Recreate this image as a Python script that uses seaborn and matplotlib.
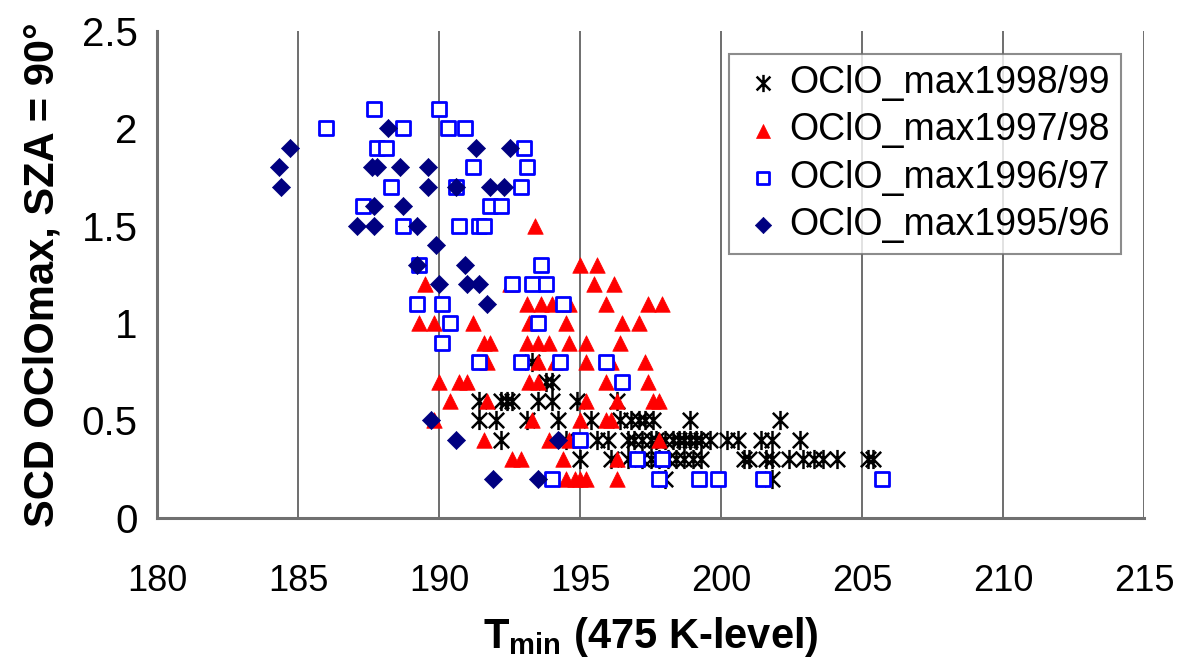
import numpy as np
import pandas as pd
import matplotlib
matplotlib.use("Agg")
import matplotlib.pyplot as plt
from matplotlib.path import Path
import seaborn as sns

# ---------------- data ----------------
# OClO_max1998/99 (asterisks)
t9899 = [193.3,
         193.8, 194.0,
         191.4, 192.2, 192.4, 192.6, 193.5, 194.0, 194.9, 196.3,
         191.4, 192.0, 193.1, 194.2, 195.4, 196.4, 196.8, 197.1, 197.3, 197.6, 198.9, 202.1,
         192.2, 194.5, 195.6, 196.0, 196.7, 196.9, 197.2, 197.5, 197.7, 198.0, 198.3, 198.5,
         198.7, 198.9, 199.1, 199.3, 199.6, 200.2, 200.6, 201.4, 201.8, 202.8,
         195.0, 196.1, 196.7, 197.2, 197.5, 197.8, 198.1, 198.4, 198.7, 199.0, 199.3, 200.8,
         201.0, 201.6, 201.8, 202.4, 202.9, 203.3, 203.6, 204.1, 205.2, 205.4,
         198.0, 201.8]
v9899 = [0.8,
         0.7, 0.7,
         0.6, 0.6, 0.6, 0.6, 0.6, 0.6, 0.6, 0.6,
         0.5, 0.5, 0.5, 0.5, 0.5, 0.5, 0.5, 0.5, 0.5, 0.5, 0.5, 0.5,
         0.4, 0.4, 0.4, 0.4, 0.4, 0.4, 0.4, 0.4, 0.4, 0.4, 0.4, 0.4,
         0.4, 0.4, 0.4, 0.4, 0.4, 0.4, 0.4, 0.4, 0.4, 0.4,
         0.3, 0.3, 0.3, 0.3, 0.3, 0.3, 0.3, 0.3, 0.3, 0.3, 0.3, 0.3,
         0.3, 0.3, 0.3, 0.3, 0.3, 0.3, 0.3, 0.3, 0.3, 0.3,
         0.2, 0.2]

# OClO_max1997/98 (triangles)
t9798 = [193.4,
         195.0, 195.6,
         189.5, 192.5, 195.5, 196.2,
         193.1, 193.6, 194.0, 194.6, 195.9, 197.4, 197.9,
         189.3, 189.8, 191.2, 193.2, 194.5, 196.5, 197.1,
         191.6, 191.8, 193.1, 193.5, 193.9, 194.6, 195.2, 196.4,
         191.7, 193.5, 194.1, 195.2, 196.1, 197.3,
         190.0, 190.7, 191.0, 193.2, 193.5, 195.9, 197.4,
         190.4, 191.7, 195.2, 196.3, 197.6, 197.8,
         189.8, 193.3, 195.0, 195.9, 196.1,
         191.6, 193.9, 194.6, 197.8,
         192.6, 192.9, 194.4, 196.3,
         194.5, 194.8, 195.0, 195.2, 196.3]
v9798 = [1.5,
         1.3, 1.3,
         1.2, 1.2, 1.2, 1.2,
         1.1, 1.1, 1.1, 1.1, 1.1, 1.1, 1.1,
         1.0, 1.0, 1.0, 1.0, 1.0, 1.0, 1.0,
         0.9, 0.9, 0.9, 0.9, 0.9, 0.9, 0.9, 0.9,
         0.8, 0.8, 0.8, 0.8, 0.8, 0.8,
         0.7, 0.7, 0.7, 0.7, 0.7, 0.7, 0.7,
         0.6, 0.6, 0.6, 0.6, 0.6, 0.6,
         0.5, 0.5, 0.5, 0.5, 0.5,
         0.4, 0.4, 0.4, 0.4,
         0.3, 0.3, 0.3, 0.3,
         0.2, 0.2, 0.2, 0.2, 0.2]

# OClO_max1996/97 (open squares)
t9697 = [187.7, 190.0,
         186.0, 188.7, 190.3, 190.9,
         187.8, 188.1, 193.0,
         191.2, 193.1,
         188.3, 190.6, 192.9,
         187.3, 191.8, 192.2,
         188.7, 190.7, 191.4, 191.6,
         189.3, 193.6,
         192.6, 193.3, 193.8,
         189.2, 190.1, 194.4,
         190.4, 193.5,
         190.1,
         191.4, 192.9, 194.3, 195.9,
         196.5,
         195.0,
         197.0, 197.9,
         194.0, 197.8, 199.2, 199.9, 201.5, 205.7]
v9697 = [2.1, 2.1,
         2.0, 2.0, 2.0, 2.0,
         1.9, 1.9, 1.9,
         1.8, 1.8,
         1.7, 1.7, 1.7,
         1.6, 1.6, 1.6,
         1.5, 1.5, 1.5, 1.5,
         1.3, 1.3,
         1.2, 1.2, 1.2,
         1.1, 1.1, 1.1,
         1.0, 1.0,
         0.9,
         0.8, 0.8, 0.8, 0.8,
         0.7,
         0.4,
         0.3, 0.3,
         0.2, 0.2, 0.2, 0.2, 0.2, 0.2]

# OClO_max1995/96 (diamonds)
t9596 = [188.2,
         184.7, 191.3, 192.5,
         184.3, 187.6, 187.8, 188.6, 189.6,
         184.4, 189.6, 190.6, 191.8, 192.3,
         187.7, 188.7,
         187.1, 187.7, 189.2,
         189.9,
         189.2, 190.9,
         190.0, 191.0, 191.4,
         191.7,
         189.7,
         190.6, 194.2,
         191.9, 193.5]
v9596 = [2.0,
         1.9, 1.9, 1.9,
         1.8, 1.8, 1.8, 1.8, 1.8,
         1.7, 1.7, 1.7, 1.7, 1.7,
         1.6, 1.6,
         1.5, 1.5, 1.5,
         1.4,
         1.3, 1.3,
         1.2, 1.2, 1.2,
         1.1,
         0.5,
         0.4, 0.4,
         0.2, 0.2]

labels = ["OClO_max1998/99", "OClO_max1997/98", "OClO_max1996/97", "OClO_max1995/96"]
x_ticks = [180, 185, 190, 195, 200, 205, 210, 215]
y_ticks = [0, 0.5, 1, 1.5, 2, 2.5]
y_ticklabels = ["0", "0.5", "1", "1.5", "2", "2.5"]

# ---------------- style ----------------
sns.set_style("white")
plt.rcParams["font.family"] = ["Liberation Sans", "DejaVu Sans"]
plt.rcParams["text.color"] = "black"
plt.rcParams["axes.labelcolor"] = "black"
plt.rcParams["xtick.color"] = "black"
plt.rcParams["ytick.color"] = "black"
plt.rcParams["mathtext.fontset"] = "custom"
plt.rcParams["mathtext.rm"] = "Liberation Sans:bold"
plt.rcParams["mathtext.bf"] = "Liberation Sans:bold"
plt.rcParams["mathtext.it"] = "Liberation Sans:bold"

fig = plt.figure(figsize=(11.79, 6.61), dpi=100)
ax = fig.add_axes([0.1334, 0.2165, 0.8369, 0.7368])

# Excel-like star marker: X plus vertical bar
star = Path([(-0.8, -0.8), (0.8, 0.8), (-0.8, 0.8), (0.8, -0.8), (0, -1), (0, 1)],
            [Path.MOVETO, Path.LINETO, Path.MOVETO, Path.LINETO, Path.MOVETO, Path.LINETO])

series = [
    (t9899, v9899, labels[0], dict(marker=star, s=190, color="black", edgecolor="black", linewidth=1.8)),
    (t9798, v9798, labels[1], dict(marker="^", s=125, color="#FF0000", edgecolor="#FF0000", linewidth=0.5)),
    (t9697, v9697, labels[2], dict(marker="s", s=100, facecolor="white", edgecolor="#0000FF", linewidth=2.0)),
    (t9596, v9596, labels[3], dict(marker="D", s=85, color="#000080", edgecolor="#000080", linewidth=0.5)),
]
for i, (xs, ys, lab, kw) in enumerate(series):
    df = pd.DataFrame({"T": xs, "V": ys})
    sns.scatterplot(data=df, x="T", y="V", ax=ax, label=lab, zorder=3 + i, **kw)

ax.set_xlim(180, 215)
ax.set_ylim(0, 2.5)
ax.set_xticks(x_ticks)
ax.set_xticklabels([str(t) for t in x_ticks], fontsize=26)
ax.set_yticks(y_ticks)
ax.set_yticklabels(y_ticklabels, fontsize=29)

ax.grid(axis="x", color="#555555", linewidth=1.2)
ax.grid(axis="y", visible=False)
ax.set_axisbelow(True)

for side in ["top", "right"]:
    ax.spines[side].set_visible(False)
for side in ["left", "bottom"]:
    ax.spines[side].set_color("#707070")
    ax.spines[side].set_linewidth(2.2)

ax.tick_params(axis="y", direction="inout", length=16, width=1.2, color="#333333", pad=6)
ax.tick_params(axis="x", direction="out", length=11, width=1.2, color="#333333", pad=22)

ax.set_xlabel(r"T$_{\mathregular{min}}$ (475 K-level)", fontsize=30, fontweight="bold", labelpad=12)
ax.set_ylabel("SCD OClOmax, SZA = 90°", fontsize=30, fontweight="bold", labelpad=14)

leg = ax.legend(loc="upper right", bbox_to_anchor=(0.9767, 0.9526), borderaxespad=0,
                fontsize=27, frameon=True, fancybox=False, markerscale=0.9,
                handletextpad=0.1, labelspacing=0.3, borderpad=0.3, handlelength=1.2)
leg.get_frame().set_edgecolor("#707070")
leg.get_frame().set_linewidth(1.5)

fig.savefig("out.png", dpi=100)
